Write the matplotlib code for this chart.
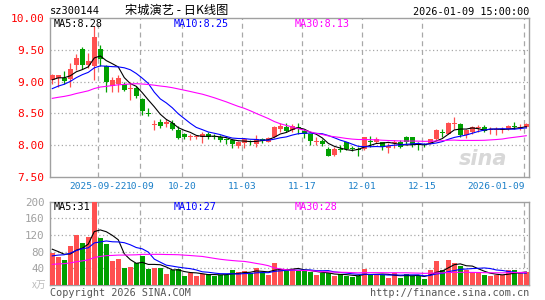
import matplotlib
matplotlib.use('Agg')
import matplotlib.pyplot as plt
import numpy as np
import pandas as pd

# ---------------- data ----------------
holidays = ['2025-10-01', '2025-10-02', '2025-10-03', '2025-10-06', '2025-10-07',
            '2025-10-08', '2026-01-01', '2026-01-02']
dates = [d for d in pd.bdate_range('2025-09-10', '2026-01-09').strftime('%Y-%m-%d')
         if d not in holidays]

open_ = [9.02, 9.06, 9.06, 9.04, 9.26, 9.51, 9.26, 9.24, 9.52, 9.25,
         8.93, 8.97, 8.97, 8.88, 8.90, 8.73, 8.50, 8.32, 8.37, 8.33,
         8.35, 8.24, 8.17, 8.13, 8.12, 8.13, 8.18, 8.14, 8.13, 8.09,
         8.08, 7.99, 8.03, 8.05, 8.01, 8.08, 8.05, 8.12, 8.25, 8.29,
         8.23, 8.27, 8.22, 8.17, 8.05, 8.07, 7.94, 7.84, 7.93, 8.04,
         7.95, 7.93, 7.93, 8.06, 8.05, 8.04, 7.95, 8.03, 8.05, 8.12,
         8.12, 8.01, 8.01, 8.03, 8.09, 8.20, 8.18, 8.33, 8.33, 8.16,
         8.21, 8.27, 8.29, 8.23, 8.23, 8.24, 8.25, 8.30, 8.27, 8.29]
close = [9.10, 9.10, 9.01, 9.20, 9.37, 9.27, 9.32, 9.71, 9.36, 9.00,
         9.03, 9.06, 8.87, 8.89, 8.78, 8.53, 8.49, 8.33, 8.30, 8.37,
         8.26, 8.11, 8.12, 8.14, 8.13, 8.18, 8.12, 8.13, 8.08, 8.08,
         8.01, 8.04, 8.10, 8.04, 8.10, 8.07, 8.11, 8.29, 8.30, 8.22,
         8.30, 8.26, 8.17, 8.06, 8.06, 8.01, 7.83, 7.94, 7.92, 7.94,
         7.94, 7.92, 8.12, 8.05, 8.09, 7.97, 7.98, 8.04, 7.97, 8.04,
         8.00, 8.00, 8.00, 8.09, 8.23, 8.19, 8.34, 8.34, 8.16, 8.23,
         8.28, 8.28, 8.22, 8.24, 8.24, 8.25, 8.30, 8.29, 8.28, 8.33]
high = [9.12, 9.11, 9.17, 9.29, 9.44, 9.55, 9.45, 9.88, 9.58, 9.27,
        9.07, 9.11, 9.00, 9.00, 8.93, 8.74, 8.58, 8.39, 8.41, 8.41,
        8.40, 8.30, 8.19, 8.17, 8.15, 8.20, 8.20, 8.17, 8.16, 8.11,
        8.10, 8.07, 8.11, 8.08, 8.16, 8.11, 8.13, 8.30, 8.34, 8.34,
        8.33, 8.34, 8.26, 8.18, 8.12, 8.09, 7.97, 7.97, 8.00, 8.05,
        7.99, 7.97, 8.13, 8.14, 8.12, 8.05, 8.03, 8.08, 8.08, 8.14,
        8.13, 8.05, 8.03, 8.10, 8.25, 8.25, 8.37, 8.44, 8.34, 8.25,
        8.30, 8.31, 8.32, 8.28, 8.29, 8.29, 8.32, 8.37, 8.33, 8.35]
low = [8.97, 8.91, 8.96, 8.92, 9.19, 9.20, 9.21, 9.03, 9.25, 8.84,
       8.83, 8.83, 8.85, 8.71, 8.74, 8.47, 8.46, 8.24, 8.27, 8.29,
       8.24, 8.09, 8.09, 8.08, 8.09, 8.03, 8.10, 8.09, 8.05, 8.02,
       7.96, 7.96, 7.96, 8.00, 7.97, 8.03, 8.04, 8.11, 8.21, 8.21,
       8.21, 8.18, 8.11, 8.00, 8.00, 7.99, 7.82, 7.83, 7.89, 7.92,
       7.91, 7.82, 7.92, 7.97, 8.03, 7.92, 7.87, 7.95, 7.95, 8.02,
       7.97, 7.92, 7.97, 8.02, 8.08, 8.12, 8.17, 8.26, 8.13, 8.11,
       8.18, 8.21, 8.20, 8.17, 8.16, 8.19, 8.23, 8.25, 8.24, 8.27]
volume = [77.6, 66.4, 60.0, 93.6, 120.0, 101.6, 116.0, 210.0, 113.6, 98.4,
          58.4, 62.4, 41.6, 44.0, 53.6, 70.4, 37.6, 41.6, 40.0, 26.4,
          36.0, 37.6, 21.6, 28.0, 22.4, 26.0, 26.4, 22.4, 24.8, 24.8,
          36.0, 30.4, 33.6, 28.0, 40.8, 31.2, 24.0, 52.8, 38.4, 36.0,
          38.4, 33.6, 36.0, 30.4, 24.0, 28.0, 28.0, 21.6, 25.6, 21.6,
          20.0, 21.6, 38.4, 24.0, 24.0, 24.0, 17.6, 28.0, 17.6, 26.4,
          21.6, 21.6, 15.2, 36.0, 58.4, 36.0, 60.0, 53.6, 45.6, 36.0,
          32.0, 28.0, 24.0, 21.6, 24.0, 24.0, 36.0, 36.0, 28.0, 32.0]

# closes / volumes of the 29 sessions before the window (for the moving averages)
prior_close = [8.60, 8.58, 8.62, 8.60, 8.64, 8.66, 8.63, 8.65, 8.68, 8.66,
               8.70, 8.67, 8.69, 8.66, 8.68, 8.70, 8.67, 8.69, 8.70, 8.72,
               8.70, 8.72, 8.75, 8.78, 8.80, 8.95, 9.00, 9.05, 9.05]
prior_volume = [35, 42, 38, 40, 36, 44, 39, 41, 37, 43,
                38, 40, 36, 42, 39, 41, 38, 40, 39, 40,
                48, 52, 55, 57, 58, 95, 92, 90, 75]

tick_dates = ['2025-09-22', '2025-10-09', '2025-10-20', '2025-11-03',
              '2025-11-17', '2025-12-01', '2025-12-15', '2026-01-09']
tick_labels = ['2025-09-22', '10-09', '10-20', '11-03', '11-17', '12-01', '12-15', '2026-01-09']
price_ticks = [7.50, 8.00, 8.50, 9.00, 9.50, 10.00]
vol_ticks = [40, 80, 120, 160, 200]
ma_price_text = ['MA5:8.28', 'MA10:8.25', 'MA30:8.13']
ma_vol_text = ['MA5:31', 'MA10:27', 'MA30:28']
title_code = 'sz300144'
title_name = '宋城演艺 - 日K线图'
title_time = '2026-01-09 15:00:00'

# ---------------- drawing ----------------
W, H = 545, 300
fig = plt.figure(figsize=(W / 100, H / 100), dpi=100)
MONO = 'DejaVu Sans Mono'
RED = '#ff5050'
GREEN = '#00a000'
GRID = '#a8a8a8'
FRAME = '#a0a0a0'


def fx(x):
    return x / W


def fy(y):
    return 1 - y / H


ax1 = fig.add_axes([fx(50), fy(176.7), (529 - 50) / W, (176.7 - 18.3) / H])
ax2 = fig.add_axes([fx(50), fy(285), (529 - 50) / W, (285 - 201.7) / H])

n = len(close)
x = np.arange(n)
o = np.array(open_)
c = np.array(close)
hi = np.array(high)
lo = np.array(low)
v = np.array(volume)
up = c >= o
cols = np.where(up, RED, GREEN)


def ma(prior, series, w):
    full = pd.Series(list(prior) + list(series))
    return full.rolling(w).mean().to_numpy()[len(prior):]


xlim = (-0.38, 79.45)
tick_pos = [dates.index(d) - 0.3 for d in tick_dates]

for ax in (ax1, ax2):
    ax.set_xlim(*xlim)
    for s in ax.spines.values():
        s.set_color(FRAME)
        s.set_linewidth(1.0)
    ax.tick_params(length=0)
    for tp in tick_pos:
        ax.axvline(tp, color=GRID, lw=0.9, dashes=(4, 3), zorder=0)

# price panel
ax1.set_ylim(7.5, 10.0)
for p in price_ticks[1:-1]:
    ax1.axhline(p, color=GRID, lw=0.9, dashes=(1, 2), zorder=0)
ax1.vlines(x, lo, hi, colors=cols, lw=0.9, zorder=2)
body_h = np.maximum(np.abs(c - o), 0.018)
ax1.bar(x, body_h, bottom=np.minimum(o, c), width=0.8, color=cols, linewidth=0, zorder=3)
ax1.plot(x, ma(prior_close, c, 5), color='black', lw=0.8, zorder=4)
ax1.plot(x, ma(prior_close, c, 10), color='#0000ff', lw=0.8, zorder=4)
ax1.plot(x, ma(prior_close, c, 30), color='#ff00ff', lw=0.8, zorder=4)
ax1.set_yticks(price_ticks)
ax1.set_yticklabels(['%.2f' % p for p in price_ticks], color='#ff0000',
                    fontsize=8, family=MONO)
ax1.tick_params(axis='y', pad=4)
ax1.set_xticks(tick_pos)
ax1.set_xticklabels(tick_labels, color='#1a7fc8', fontsize=6.8, family=MONO)
ax1.tick_params(axis='x', pad=4)
ax1.get_xticklabels()[-1].set_ha('right')
ax1.get_xticklabels()[-1].set_x(tick_pos[-1] + 0.6)
ax1.get_xticklabels()[0].set_x(tick_pos[0] - 0.25)

# sina watermark
ax1.text(0.955, 0.05, 'sina', transform=ax1.transAxes, ha='right', va='bottom',
         fontsize=15, fontweight='bold', style='italic', color='#d8d8d8', zorder=1)

# volume panel
ax2.set_ylim(0, 200)
for p in vol_ticks[:-1]:
    ax2.axhline(p, color=GRID, lw=0.9, dashes=(1, 2), zorder=0)
ax2.bar(x, v, width=0.82, color=cols, linewidth=0, zorder=3)
ax2.plot(x, ma(prior_volume, v, 5), color='black', lw=0.8, zorder=4)
ax2.plot(x, ma(prior_volume, v, 10), color='#0000ff', lw=0.8, zorder=4)
ax2.plot(x, ma(prior_volume, v, 30), color='#ff00ff', lw=0.8, zorder=4)
ax2.set_yticks(vol_ticks)
ax2.set_yticklabels([str(t) for t in vol_ticks], color='#a0a0a0', fontsize=7.8, family=MONO)
ax2.tick_params(axis='y', pad=4)
ax2.set_xticks([])

# MA legends
ma_cols = ['black', '#0000ff', '#ff00ff']
for txt, col, xp in zip(ma_price_text, ma_cols, [54, 174, 295]):
    fig.text(fx(xp), fy(24), txt, color=col, fontsize=7.3, family=MONO, va='center', ha='left')
for txt, col, xp in zip(ma_vol_text, ma_cols, [54, 174, 295]):
    fig.text(fx(xp), fy(207), txt, color=col, fontsize=7.3, family=MONO, va='center', ha='left')

# titles
fig.text(fx(50), fy(11), title_code, fontsize=7.5, family=MONO, va='center', ha='left')
fig.text(fx(177), fy(10), title_name, fontsize=8.8,
         family=['Noto Sans CJK SC', 'DejaVu Sans'], va='center', ha='center')
fig.text(fx(529), fy(12), title_time, fontsize=7.3, family=MONO, va='center', ha='right')

fig.text(fx(50), fy(293), 'Copyright 2026 SINA.COM', fontsize=7.3, family=MONO,
         color='#555555', va='center', ha='left')
fig.text(fx(529), fy(293), 'http://finance.sina.com.cn', fontsize=7.3, family=MONO,
         color='#555555', va='center', ha='right')
fig.text(fx(46), fy(285), 'x万', fontsize=7, family=['Noto Sans CJK SC', 'DejaVu Sans'],
         color='#bbbbbb', va='center', ha='right')

fig.savefig('out.png', dpi=100, facecolor='white')
